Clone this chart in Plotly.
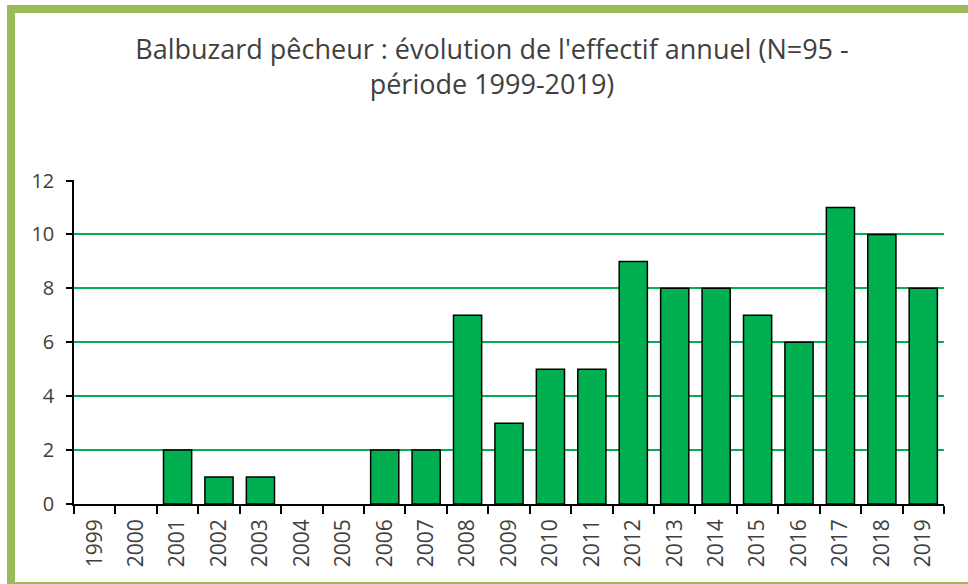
import plotly.graph_objects as go

years = [str(y) for y in range(1999, 2020)]
counts = [0, 0, 2, 1, 1, 0, 0, 2, 2, 7, 3, 5, 5, 9, 8, 8, 7, 6, 11, 10, 8]
y_ticks = [0, 2, 4, 6, 8, 10, 12]

W, H = 968, 584
L, R, T, B = 74, 24, 180, 80
pw, ph = W - L - R, H - T - B

def px_x(x):
    return (x - L) / pw

def px_y(y):
    return (H - B - y) / ph

fig = go.Figure()
fig.add_trace(go.Bar(
    x=years, y=counts,
    marker=dict(color="#00B050",
                line=dict(color="#000000", width=[1.5 if v > 0 else 0 for v in counts])),
))

fig.update_layout(
    width=W, height=H,
    margin=dict(l=L, r=R, t=T, b=B),
    paper_bgcolor="white", plot_bgcolor="white",
    bargap=0.32,
    showlegend=False,
    font=dict(family="Open Sans, sans-serif", color="#404040"),
    title=dict(
        text="Balbuzard pêcheur : évolution de l'effectif annuel (N=95 -<br>période 1999-2019)",
        x=px_x(492), xref="paper", xanchor="center",
        y=1 - 59 / H, yref="container", yanchor="top",
        font=dict(size=27, color="#404040", family="Open Sans, sans-serif"),
    ),
    xaxis=dict(
        type="category",
        tickangle=-90,
        ticks="outside", ticklen=8, tickcolor="#000000", tickwidth=1.5,
        tickson="boundaries",
        ticklabelstandoff=5,
        showline=True, linecolor="#000000", linewidth=1.5,
        showgrid=False,
        tickfont=dict(size=21, color="#404040"),
    ),
    yaxis=dict(
        range=[0, 12.02],
        tickvals=y_ticks,
        ticks="outside", ticklen=6, tickcolor="#000000", tickwidth=1.5,
        ticklabelstandoff=8,
        showline=True, linecolor="#000000", linewidth=1.5,
        showgrid=True, gridcolor="#00B050", gridwidth=1.5,
        zeroline=False,
        tickfont=dict(size=20, color="#404040"),
    ),
    shapes=[dict(
        type="rect", xref="paper", yref="paper",
        x0=px_x(11), x1=px_x(976), y0=px_y(586), y1=px_y(9),
        line=dict(color="#9BBB59", width=8),
        fillcolor="rgba(0,0,0,0)", layer="below",
    )],
)

fig.write_html(
    "out.html",
    config={"displayModeBar": False},
    post_script="document.body.style.margin='0';document.body.style.padding='0';document.body.style.overflow='hidden';",
)
